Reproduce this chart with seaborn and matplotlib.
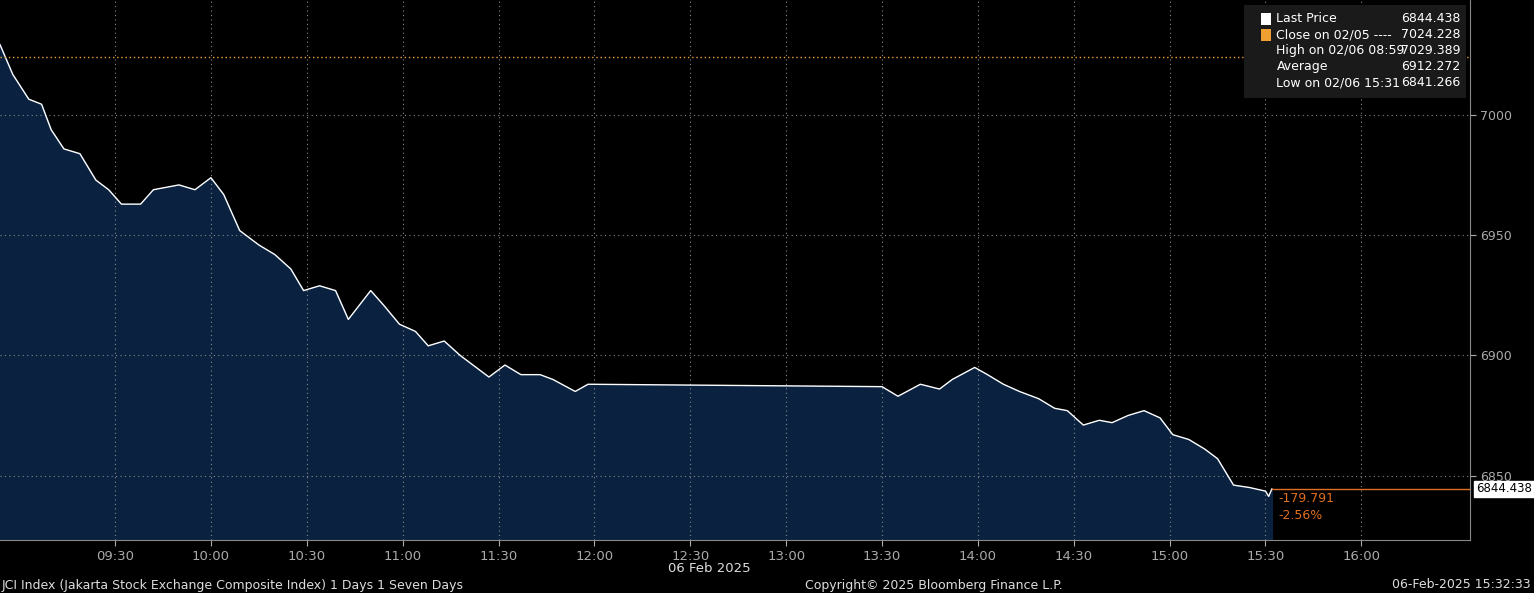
import matplotlib
matplotlib.use("Agg")
import matplotlib.pyplot as plt
import seaborn as sns
import pandas as pd

times = ["08:54","08:58","09:03","09:07","09:10","09:14","09:19","09:24","09:28","09:32","09:38","09:42",
         "09:50","09:55","10:00","10:04","10:09","10:15","10:20","10:25","10:29","10:34","10:39","10:43",
         "10:50","10:54","10:59","11:04","11:08","11:13","11:18","11:22","11:27","11:32","11:37","11:43",
         "11:47","11:54","11:58","13:30","13:35","13:42","13:48","13:52","13:59","14:03","14:08","14:13",
         "14:19","14:24","14:28","14:33","14:38","14:42","14:47","14:52","14:57","15:01","15:06","15:11",
         "15:15","15:20","15:25","15:30","15:31","15:32"]
prices = [7029.4,7017,7006.7,7004.6,6994,6986,6984,6973,6969,6963,6963,6969,
          6971,6969,6974,6967,6952,6946,6942,6936,6927,6929,6927,6915,
          6927,6921,6913,6910,6904,6906,6900,6896,6891,6896,6892,6892,
          6890,6885,6888,6887,6883,6888,6886,6890,6895,6892,6888,6885,
          6882,6878,6877,6871,6873,6872,6875,6877,6874,6867,6865,6861,
          6857,6846,6845,6843.5,6841.3,6844.4]
tick_labels = ["09:30","10:00","10:30","11:00","11:30","12:00","12:30","13:00","13:30","14:00","14:30","15:00","15:30","16:00"]
y_ticks = [6850, 6900, 6950, 7000]
prev_close = 7024.228
last_price = 6844.438
net_change = -179.791
pct_change = -2.56

day = "2025-02-06 "
df = pd.DataFrame({"t": pd.to_datetime([day + t for t in times]), "p": prices})

fig = plt.figure(figsize=(15.34, 5.93), dpi=100, facecolor="black")
ax = fig.add_axes([0.0, 0.09, 1470/1534, 0.91])
ax.set_facecolor("black")
ymin, ymax = 6823.3, 7048
ax.fill_between(df["t"], df["p"], ymin, color="#0a2240", zorder=1)
sns.lineplot(data=df, x="t", y="p", ax=ax, color="white", linewidth=1.0, zorder=3)
ax.set_xlim(pd.Timestamp(day + "08:54"), pd.Timestamp(day + "16:34"))
ax.set_ylim(ymin, ymax)

ax.set_xticks(pd.to_datetime([day + t for t in tick_labels]))
ax.set_xticklabels(tick_labels, color="#dddddd", fontsize=9.5)
ax.yaxis.tick_right()
ax.set_yticks(y_ticks)
ax.set_yticklabels([str(v) for v in y_ticks], color="#dddddd", fontsize=9)
ax.tick_params(colors="#aaaaaa", length=4)
ax.grid(True, color="#888888", linestyle=(0, (1, 3)), linewidth=0.8, zorder=2)
ax.set_xlabel(""); ax.set_ylabel("")
for s in ["top", "left"]:
    ax.spines[s].set_visible(False)
ax.spines["right"].set_color("#888888")
ax.spines["bottom"].set_color("#888888")

ax.axhline(prev_close, color="#f0a030", linestyle=(0, (1, 2)), linewidth=1, zorder=4)
ax.plot([df["t"].iloc[-1], pd.Timestamp(day + "16:34")], [last_price, last_price], color="#e07020", lw=1, zorder=4)
ax.text(1.004, (last_price - ymin) / (ymax - ymin), f"{last_price:.3f}", transform=ax.transAxes,
        va="center", ha="left", fontsize=8.5, color="black",
        bbox=dict(boxstyle="square,pad=0.15", fc="white", ec="white"), clip_on=False)
ax.text(pd.Timestamp(day + "15:34"), 6840.5, f"{net_change:.3f}", color="#e07020", fontsize=9, va="center")
ax.text(pd.Timestamp(day + "15:34"), 6833.5, f"{pct_change:.2f}%", color="#e07020", fontsize=9, va="center")

# legend
lx, ly = 1261 / 1470, 1 - 19 / 540
ax.add_patch(plt.Rectangle((1244 / 1470, 1 - 98 / 540), 222 / 1470, 93 / 540, transform=ax.transAxes,
                           fc="#1a1a1a", ec="none", zorder=5))
entries = [("Last Price", "6844.438", "white"), ("Close on 02/05 ----", "7024.228", "#f0a030"),
           ("High on 02/06 08:59", "7029.389", None), ("Average", "6912.272", None),
           ("Low on 02/06 15:31", "6841.266", None)]
for i, (lab, val, c) in enumerate(entries):
    yy = ly - i * 16 / 540
    if c:
        ax.add_patch(plt.Rectangle((lx, yy - 0.011), 0.0065, 0.022, transform=ax.transAxes, fc=c, ec="none", zorder=6))
    ax.text(lx + 0.0105, yy, lab, transform=ax.transAxes, color="white", fontsize=9, va="center", zorder=6)
    ax.text(1460 / 1470, yy, val, transform=ax.transAxes, color="white", fontsize=9, va="center", ha="right", zorder=6)

fig.text(668 / 1534, 1 - 568 / 593, "06 Feb 2025", color="#dddddd", fontsize=9.5, va="center")
fig.text(0.001, 1 - 585 / 593, "JCI Index (Jakarta Stock Exchange Composite Index) 1 Days 1 Seven Days", color="#dddddd", fontsize=9, va="center")
fig.text(805 / 1534, 1 - 585 / 593, "Copyright© 2025 Bloomberg Finance L.P.", color="#dddddd", fontsize=9, va="center")
fig.text(0.998, 1 - 585 / 593, "06-Feb-2025 15:32:33", color="#dddddd", fontsize=9, va="center", ha="right")

fig.savefig("out.png", dpi=100, facecolor="black")
